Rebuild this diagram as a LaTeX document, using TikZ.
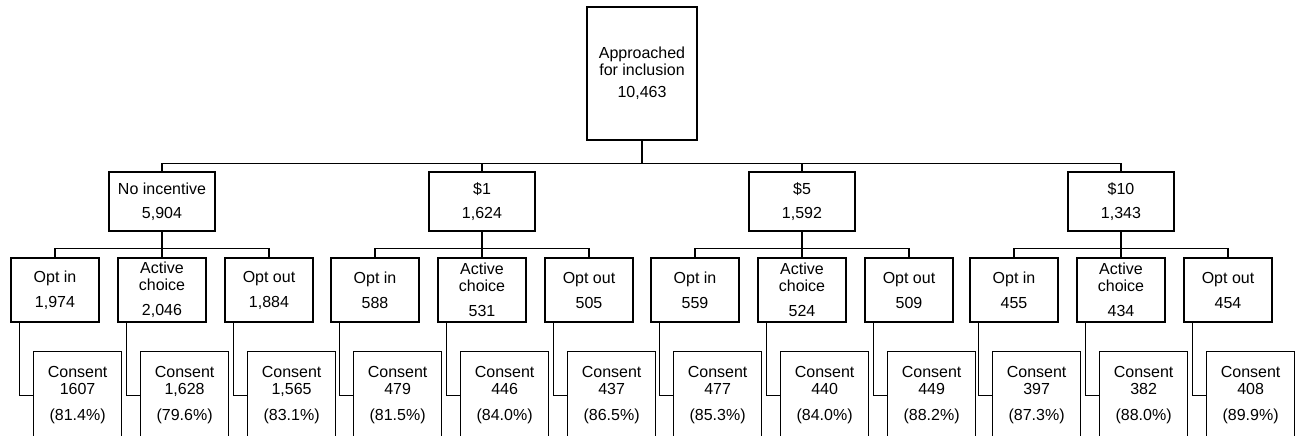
\documentclass[tikz,border=0pt]{standalone}
\usepackage{fontspec}
\setmainfont{Liberation Sans}
\newcommand\myarm[6]{%
  \node[armbox] (#1) at (#2,290) {#3\\[8pt]#4};
  \node[consbox] (#1c) at (#2-22,350.5) {Consent\\#5\\[9pt](#6)};
  \draw (#1.south west) ++(9,0) coordinate (#1k) -- (#1k |- #1c.west) -- (#1c.west);
}
\begin{document}
\begin{tikzpicture}[x=1pt,y=-1pt,line width=1.2pt,
  box/.style={draw, inner sep=0pt, align=center, font=\fontsize{16}{17}\selectfont},
  topbox/.style={box, minimum width=110pt, minimum height=133pt},
  grpbox/.style={box, minimum width=106pt, minimum height=59pt},
  armbox/.style={box, minimum width=88pt, minimum height=64pt},
  consbox/.style={box, minimum width=88pt, minimum height=88pt, anchor=north west}]
\useasboundingbox (0,0) rectangle (1298,436);
\clip (0,0) rectangle (1298,436);
\node[topbox] (top) at (642,73.5) {Approached\\for inclusion\\[5pt]10,463};
\node[grpbox] (g1) at (162,201.5) {No incentive\\[7pt]5,904};
\node[grpbox] (g2) at (482,201.5) {\$1\\[7pt]1,624};
\node[grpbox] (g3) at (802,201.5) {\$5\\[7pt]1,592};
\node[grpbox] (g4) at (1121,201.5) {\$10\\[7pt]1,343};
\foreach \g in {g1,g2,g3,g4}{
  \draw (top.south) -- ++(0,22.5) -| (\g.north);
}
\myarm{g1a}{55}{Opt in}{1,974}{1607}{81.4\%}
\myarm{g1b}{162}{Active\\choice}{2,046}{1,628}{79.6\%}
\myarm{g1c}{269}{Opt out}{1,884}{1,565}{83.1\%}
\myarm{g2a}{375}{Opt in}{588}{479}{81.5\%}
\myarm{g2b}{482}{Active\\choice}{531}{446}{84.0\%}
\myarm{g2c}{589}{Opt out}{505}{437}{86.5\%}
\myarm{g3a}{695}{Opt in}{559}{477}{85.3\%}
\myarm{g3b}{802}{Active\\choice}{524}{440}{84.0\%}
\myarm{g3c}{909}{Opt out}{509}{449}{88.2\%}
\myarm{g4a}{1014}{Opt in}{455}{397}{87.3\%}
\myarm{g4b}{1121}{Active\\choice}{434}{382}{88.0\%}
\myarm{g4c}{1228}{Opt out}{454}{408}{89.9\%}
\foreach \g in {g1,g2,g3,g4}{
  \foreach \a in {a,b,c}{
    \draw (\g.south) -- ++(0,17) -| (\g\a.north);
  }
}
\end{tikzpicture}
\end{document}
